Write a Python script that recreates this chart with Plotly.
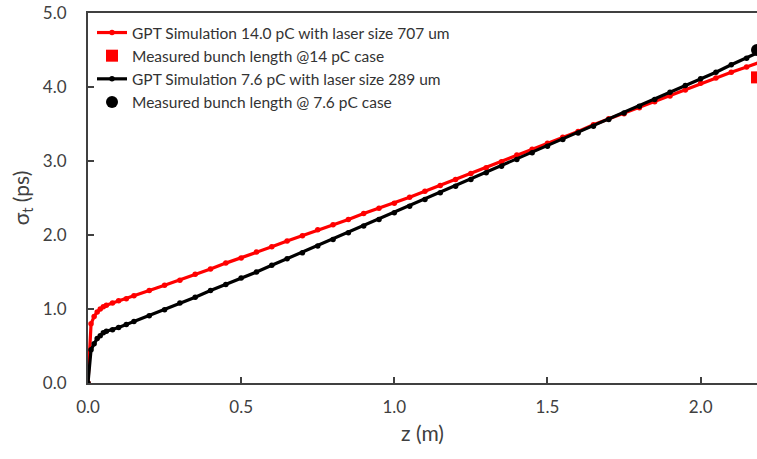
import plotly.graph_objects as go

# GPT simulation, 14.0 pC, laser size 707 um
z_14 = [0.0, 0.01, 0.02, 0.03, 0.04, 0.05, 0.06, 0.08, 0.10, 0.125, 0.15, 0.20,
        0.25, 0.30, 0.35, 0.40, 0.45, 0.50, 0.55, 0.60, 0.65, 0.70, 0.75, 0.80,
        0.85, 0.90, 0.95, 1.00, 1.05, 1.10, 1.15, 1.20, 1.25, 1.30, 1.35, 1.40,
        1.45, 1.50, 1.55, 1.60, 1.65, 1.70, 1.75, 1.80, 1.85, 1.90, 1.95, 2.00,
        2.05, 2.10, 2.15, 2.19]
sig_14 = [0.00, 0.80, 0.90, 0.96, 1.00, 1.03, 1.05, 1.08, 1.11, 1.14, 1.18, 1.25,
          1.32, 1.39, 1.47, 1.54, 1.62, 1.69, 1.77, 1.84, 1.92, 1.99, 2.07, 2.14,
          2.21, 2.29, 2.36, 2.43, 2.51, 2.59, 2.67, 2.75, 2.83, 2.91, 2.99, 3.08,
          3.16, 3.24, 3.32, 3.40, 3.49, 3.57, 3.64, 3.72, 3.80, 3.88, 3.96, 4.05,
          4.12, 4.20, 4.27, 4.33]

# GPT simulation, 7.6 pC, laser size 289 um
z_76 = [0.0, 0.01, 0.02, 0.03, 0.04, 0.05, 0.06, 0.08, 0.10, 0.125, 0.15, 0.20,
        0.25, 0.30, 0.35, 0.40, 0.45, 0.50, 0.55, 0.60, 0.65, 0.70, 0.75, 0.80,
        0.85, 0.90, 0.95, 1.00, 1.05, 1.10, 1.15, 1.20, 1.25, 1.30, 1.35, 1.40,
        1.45, 1.50, 1.55, 1.60, 1.65, 1.70, 1.75, 1.80, 1.85, 1.90, 1.95, 2.00,
        2.05, 2.10, 2.15, 2.19]
sig_76 = [0.00, 0.45, 0.53, 0.60, 0.64, 0.68, 0.70, 0.72, 0.75, 0.79, 0.83, 0.91,
          0.99, 1.08, 1.16, 1.25, 1.33, 1.42, 1.50, 1.59, 1.68, 1.76, 1.85, 1.94,
          2.03, 2.12, 2.21, 2.30, 2.39, 2.48, 2.57, 2.66, 2.75, 2.84, 2.93, 3.02,
          3.11, 3.20, 3.29, 3.38, 3.47, 3.56, 3.65, 3.74, 3.83, 3.93, 4.02, 4.11,
          4.20, 4.30, 4.39, 4.47]

# Measured bunch lengths (taken at the end of the beamline)
meas_z_14 = [2.184]
meas_sig_14 = [4.13]
meas_z_76 = [2.184]
meas_sig_76 = [4.50]

x_ticks = [0.0, 0.5, 1.0, 1.5, 2.0]
x_tick_text = ["0.0", "0.5", "1.0", "1.5", "2.0"]
y_ticks = [0.0, 1.0, 2.0, 3.0, 4.0, 5.0]
y_tick_text = ["0.0", "1.0", "2.0", "3.0", "4.0", "5.0"]

RED = "#ff0000"
BLACK = "#000000"
AXIS = "#404040"
FONT = "Lato, 'Open Sans', sans-serif"

fig = go.Figure()
fig.add_trace(go.Scatter(
    x=z_14, y=sig_14, mode="lines+markers",
    name="GPT Simulation 14.0 pC with laser size 707 um",
    line=dict(color=RED, width=3.2),
    marker=dict(color=RED, size=5.5, symbol="circle"),
))
fig.add_trace(go.Scatter(
    x=meas_z_14, y=meas_sig_14, mode="markers",
    name="Measured bunch length @14 pC case",
    marker=dict(color=RED, size=12, symbol="square"),
    cliponaxis=False,
))
fig.add_trace(go.Scatter(
    x=z_76, y=sig_76, mode="lines+markers",
    name="GPT Simulation 7.6 pC with laser size 289 um",
    line=dict(color=BLACK, width=3.2),
    marker=dict(color=BLACK, size=5.5, symbol="circle"),
))
fig.add_trace(go.Scatter(
    x=meas_z_76, y=meas_sig_76, mode="markers",
    name="Measured bunch length @ 7.6 pC case",
    marker=dict(color=BLACK, size=12, symbol="circle"),
    cliponaxis=False,
))

fig.update_layout(
    width=757, height=459,
    margin=dict(l=88, r=0, t=13, b=76),
    paper_bgcolor="white", plot_bgcolor="white",
    font=dict(family=FONT, color="#333333"),
    showlegend=True,
    legend=dict(
        x=0.006, y=0.992, xanchor="left", yanchor="top",
        bgcolor="rgba(255,255,255,0)",
        font=dict(size=15.5, color="#333333", family=FONT),
        itemwidth=30, tracegroupgap=0,
    ),
    xaxis=dict(
        range=[0, 2.184], tickvals=x_ticks, ticktext=x_tick_text,
        showgrid=False, zeroline=False,
        showline=True, linecolor=AXIS, linewidth=2, mirror=True,
        ticks="inside", ticklen=6, tickwidth=1.5, tickcolor=AXIS,
        tickfont=dict(size=17, color="#404040"),
        ticklabelstandoff=8,
        title=dict(text="z (m)", font=dict(size=21, color="#404040"), standoff=10),
    ),
    yaxis=dict(
        range=[0, 5.0], tickvals=y_ticks, ticktext=y_tick_text,
        showgrid=False, zeroline=False,
        showline=True, linecolor=AXIS, linewidth=2, mirror=False,
        ticks="inside", ticklen=6, tickwidth=1.5, tickcolor=AXIS,
        tickfont=dict(size=17, color="#404040"),
        ticklabelstandoff=16,
        title=dict(text="σ<sub>t</sub> (ps)", font=dict(size=21, color="#404040"), standoff=8),
    ),
)

fig.write_html("out.html")
